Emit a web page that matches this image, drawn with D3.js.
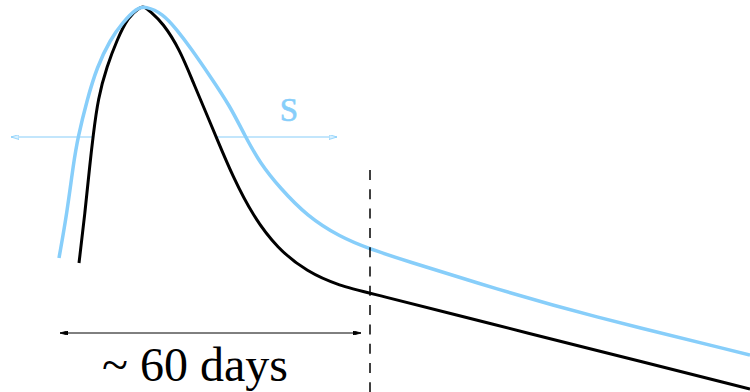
<!DOCTYPE html>
<html>
<head>
<meta charset="utf-8">
<script src="https://cdn.jsdelivr.net/npm/d3@7"></script>
<style>
  html, body { margin: 0; padding: 0; background: #fff; }
  svg { display: block; }
</style>
</head>
<body>
<svg id="chart" width="750" height="392"></svg>
<script>
// Days since start, and magnitudes below peak (larger = fainter)
const blueDays = [0, 1.6, 2.9, 3.8, 5.6, 7.6, 10.2, 12.8, 15.6, 17.2, 20.8, 23.6, 26.2, 30.2, 34.2, 37.2, 40.2, 44.2, 49.6, 56.2, 62.2, 68.2, 88.2, 104.8, 138.2];
const blueMag  = [6.25, 5.125, 3.875, 3.225, 2.3, 1.475, 0.8, 0.35, 0.0, -0.05, 0.14, 0.55, 0.975, 1.7, 2.45, 3.2, 3.875, 4.5, 5.2, 5.725, 6.025, 6.275, 7.05, 7.65, 8.675];
const blackDays = [4, 5.2, 6.2, 6.8, 7.8, 9.6, 11.6, 13.8, 16.2, 17.0, 18.2, 20.8, 24.2, 26.8, 29.6, 31.6, 34.8, 38.8, 43.6, 49.6, 56.2, 62.2, 88.2, 104.8, 138.2];
const blackMag  = [6.375, 5.125, 3.875, 3.225, 2.25, 1.45, 0.8, 0.225, -0.02, -0.04, 0.08, 0.375, 1.05, 1.85, 2.675, 3.275, 4.225, 5.2, 6.0, 6.6, 6.95, 7.125, 7.95, 8.475, 9.525];

// Annotations
const stretchArrow = { day0: -9.6, day1: 55.6, mag: 3.225 };
const durationArrow = { day0: 0.2, day1: 60.4, mag: 8.125 };
const markerDay = 62.2;
const markerMagTop = 4.05;
const durationLabel = "~ 60 days";
const stretchLabel = "S";

const svg = d3.select("#chart");
const x = d3.scaleLinear().domain([0, 138.2]).range([59, 750]);
const y = d3.scaleLinear().domain([0, 9.6]).range([8, 392]);

const blue = "#87cefa";

const defs = svg.append("defs");
function marker(id, color, fill, len, hw) {
  defs.append("marker")
    .attr("id", id)
    .attr("viewBox", `0 ${-hw} ${len} ${hw*2}`)
    .attr("refX", len).attr("refY", 0)
    .attr("markerUnits", "userSpaceOnUse")
    .attr("markerWidth", len).attr("markerHeight", hw*2)
    .attr("orient", "auto-start-reverse")
    .append("path")
    .attr("d", `M0,${-hw}L${len},0L0,${hw}Z`)
    .attr("fill", fill).attr("stroke", color).attr("stroke-width", 0.8);
}
marker("blueHead", blue, "#d8f0ff", 8, 2.5);
marker("blackHead", "#000", "#000", 8, 2.2);

// Stretch arrow (behind the black curve's hump)
svg.append("line")
  .attr("x1", x(stretchArrow.day0)).attr("x2", x(stretchArrow.day1))
  .attr("y1", y(stretchArrow.mag)).attr("y2", y(stretchArrow.mag))
  .attr("stroke", blue).attr("stroke-width", 1.2)
  .attr("marker-start", "url(#blueHead)").attr("marker-end", "url(#blueHead)");

const line = d3.line().x(d => x(d[0])).y(d => y(d[1])).curve(d3.curveBasis);
const blackData = d3.zip(blackDays, blackMag);
const blueData = d3.zip(blueDays, blueMag);

// White fill of black hump masks the arrow inside it
svg.append("path").attr("d", line(blackData) + "Z")
  .attr("fill", "#fff").attr("stroke", "none");

svg.append("path").attr("d", line(blackData))
  .attr("fill", "none").attr("stroke", "#000").attr("stroke-width", 3);

svg.append("path").attr("d", line(blueData))
  .attr("fill", "none").attr("stroke", blue).attr("stroke-width", 3.5);

// Dashed marker line
svg.append("line")
  .attr("x1", x(markerDay)).attr("x2", x(markerDay))
  .attr("y1", y(markerMagTop)).attr("y2", 392)
  .attr("stroke", "#000").attr("stroke-width", 1.5)
  .attr("stroke-dasharray", "10,9.3");

// Duration arrow
svg.append("line")
  .attr("x1", x(durationArrow.day0)).attr("x2", x(durationArrow.day1))
  .attr("y1", y(durationArrow.mag)).attr("y2", y(durationArrow.mag))
  .attr("stroke", "#000").attr("stroke-width", 1)
  .attr("marker-start", "url(#blackHead)").attr("marker-end", "url(#blackHead)");

svg.append("text")
  .attr("x", 195).attr("y", 381)
  .attr("text-anchor", "middle")
  .attr("font-family", "'Liberation Serif', 'Times New Roman', serif")
  .attr("font-size", 48)
  .attr("fill", "#000")
  .text(durationLabel);

svg.append("text")
  .attr("x", 289).attr("y", 121)
  .attr("text-anchor", "middle")
  .attr("font-family", "'Liberation Serif', 'Times New Roman', serif")
  .attr("font-size", 33)
  .attr("fill", blue)
  .attr("stroke", blue).attr("stroke-width", 0.6)
  .text(stretchLabel);
</script>
</body>
</html>
